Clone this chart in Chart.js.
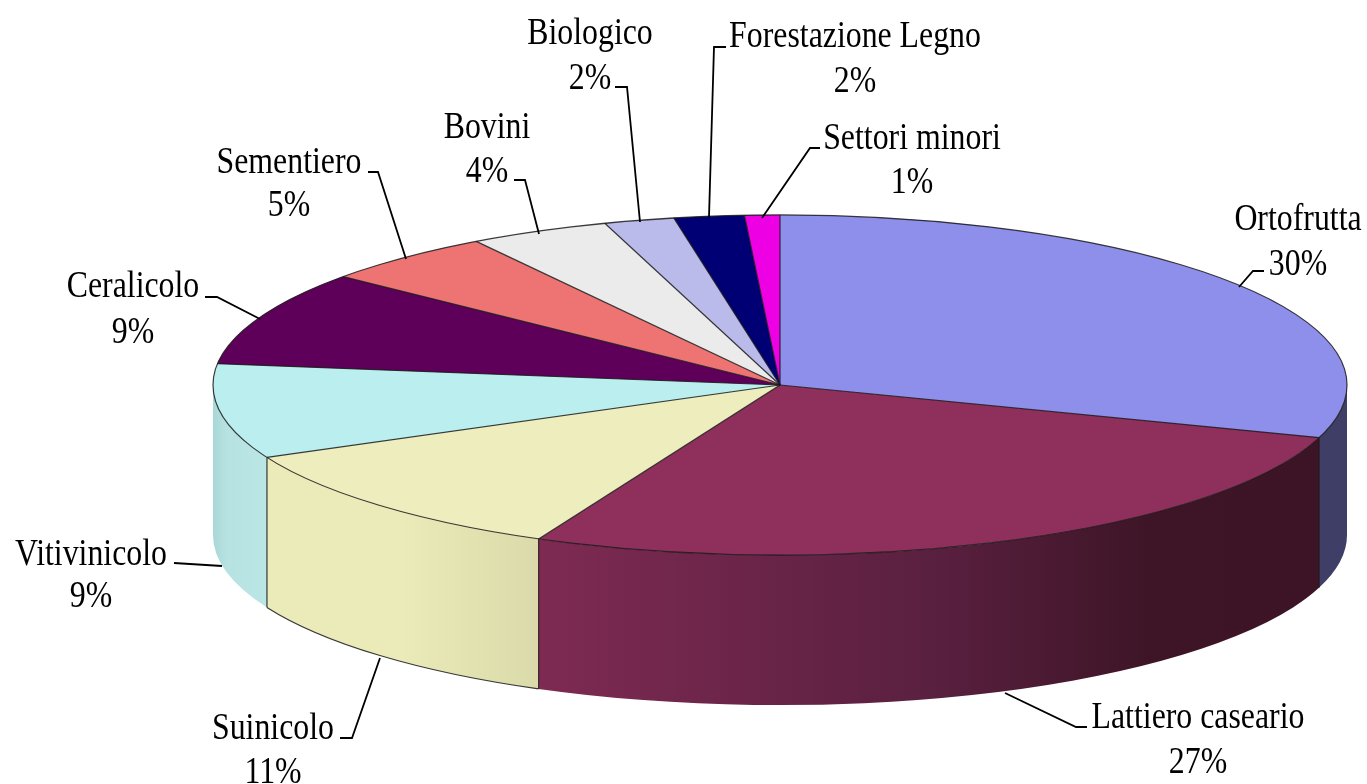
<!DOCTYPE html>
<html>
<head>
<meta charset="utf-8">
<style>html,body{margin:0;padding:0;background:#fff}canvas{display:block}</style>
<script src="https://cdn.jsdelivr.net/npm/chart.js@4"></script>
</head>
<body>
<div style="width:1367px;height:784px"><canvas id="c" width="1367" height="784"></canvas></div>
<script>
const categories = ["Ortofrutta","Lattiero caseario","Suinicolo","Vitivinicolo","Ceralicolo","Sementiero","Bovini","Biologico","Forestazione Legno","Settori minori"];
const values = [30,27,11,9,9,5,4,2,2,1];
const topColors = ["#8E8EEB","#8E2F5C","#EEEDBD","#BBEEEE","#5E0059","#EE7474","#EBEBEB","#BBBBEB","#000074","#EE00E5"];
const wallStops = [
  [[0,"#3E3E66"],[1,"#3E3E66"]],
  [[0,"#7E2A52"],[0.5,"#5A2040"],[0.78,"#3E1527"],[1,"#3C1426"]],
  [[0,"#EBEBB9"],[0.5,"#EBEBB9"],[1,"#DADAAA"]],
  [[0,"#A9D6D6"],[0.25,"#B6E2E2"],[1,"#BBE6E6"]]
];
// label centre x, first baseline, second baseline
const labelPos = [[1298,230,275],[1198,728,773],[273,739,783],[91,565,607],[133,297,343],[289,173,216],[487,138,182],[590,44,89],[855,47,92],[912,149,193]];
const leaders = [
  [[1264,271],[1253,271],[1239,287]],
  [[1087,727],[1076,727],[1005,693]],
  [[340,738],[352,738],[380,658]],
  [[174,563],[222,566]],
  [[205,297],[217,297],[260,319]],
  [[368,172],[378,172],[406,259]],
  [[514,180],[525,180],[539,234]],
  [[615,87],[627,87],[640,222]],
  [[726,47],[714,47],[709,217]],
  [[820,148],[810,148],[762,218]]
];
const SQUASH = 0.3, DEPTH = 150, EDGE = "rgba(25,25,25,0.85)", TEXT_WIDTH = 0.86;

const pie3d = {
  id: "pie3d",
  beforeDatasetsDraw(chart) {
    const ctx = chart.ctx, arcs = chart.getDatasetMeta(0).data;
    const {x: cx, y: cy, outerRadius: r} = arcs[0];
    const ry = r * SQUASH;
    arcs.forEach((arc, i) => {
      const a1 = Math.max(arc.startAngle, 0), a2 = Math.min(arc.endAngle, Math.PI);
      if (a2 <= a1) return;
      const x1 = cx + r * Math.cos(a1), x2 = cx + r * Math.cos(a2);
      const xa = Math.min(x1, x2), xb = Math.max(x1, x2);
      const g = ctx.createLinearGradient(xa, 0, xb, 0);
      (wallStops[i] || [[0, topColors[i]], [1, topColors[i]]]).forEach(s => g.addColorStop(s[0], s[1]));
      ctx.beginPath();
      ctx.ellipse(cx, cy, r, ry, 0, a1, a2);
      ctx.ellipse(cx, cy + DEPTH, r, ry, 0, a2, a1, true);
      ctx.closePath();
      ctx.fillStyle = g;
      ctx.fill();
      ctx.strokeStyle = EDGE;
      ctx.lineWidth = 1.2;
      ctx.beginPath();
      if (a1 > 0) {
        ctx.moveTo(x1, cy + ry * Math.sin(a1));
        ctx.lineTo(x1, cy + ry * Math.sin(a1) + DEPTH);
      }
      ctx.stroke();
      if (i === 2) {
        ctx.beginPath();
        ctx.ellipse(cx, cy + DEPTH, r, ry, 0, a1, a2);
        ctx.stroke();
      }
    });
    ctx.save();
    ctx.translate(cx, cy);
    ctx.scale(1, SQUASH);
    ctx.translate(-cx, -cy);
  },
  afterDatasetsDraw(chart) {
    const ctx = chart.ctx, arcs = chart.getDatasetMeta(0).data;
    ctx.restore();
    const {x: cx, y: cy, outerRadius: r} = arcs[0];
    const ry = r * SQUASH;
    ctx.strokeStyle = EDGE;
    ctx.lineWidth = 1.2;
    arcs.forEach(arc => {
      ctx.beginPath();
      ctx.moveTo(cx, cy);
      ctx.lineTo(cx + r * Math.cos(arc.startAngle), cy + ry * Math.sin(arc.startAngle));
      ctx.stroke();
    });
    ctx.beginPath();
    ctx.ellipse(cx, cy, r, ry, 0, 0, Math.PI * 2);
    ctx.stroke();
    ctx.strokeStyle = "#000";
    ctx.lineWidth = 1.8;
    leaders.forEach(pts => {
      ctx.beginPath();
      pts.forEach((p, k) => k ? ctx.lineTo(p[0], p[1]) : ctx.moveTo(p[0], p[1]));
      ctx.stroke();
    });
    ctx.fillStyle = "#000";
    ctx.font = '37px "Liberation Serif"';
    ctx.textAlign = "center";
    ctx.textBaseline = "alphabetic";
    categories.forEach((name, i) => {
      const p = labelPos[i];
      ctx.save();
      ctx.translate(p[0], 0);
      ctx.scale(TEXT_WIDTH, 1);
      ctx.fillText(name, 0, p[1]);
      ctx.fillText(values[i] + "%", 0, p[2]);
      ctx.restore();
    });
  }
};

new Chart(document.getElementById("c"), {
  type: "pie",
  data: {
    labels: categories,
    datasets: [{ data: values, backgroundColor: topColors, borderWidth: 0, radius: 567, clip: false }]
  },
  options: {
    responsive: false,
    animation: false,
    layout: { padding: { left: 193, right: 0, top: 0, bottom: 14 } },
    plugins: { legend: { display: false }, tooltip: { enabled: false } }
  },
  plugins: [pie3d]
});
</script>
</body>
</html>
